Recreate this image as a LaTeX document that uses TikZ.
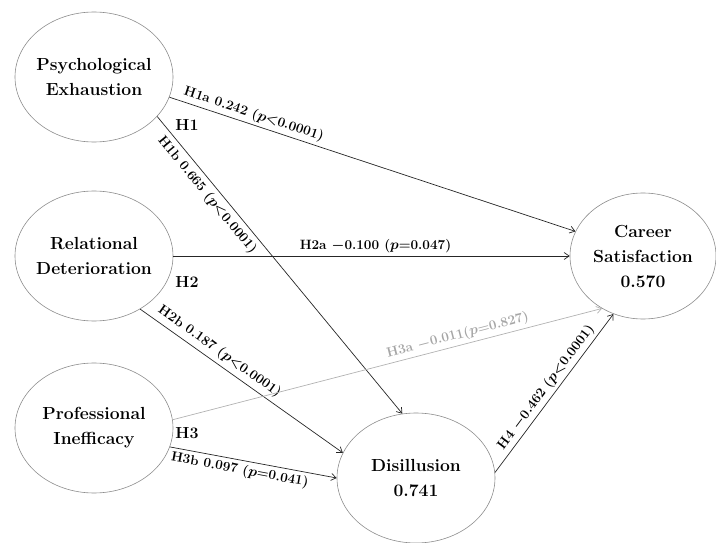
\documentclass[tikz,border=0pt]{standalone}
\usetikzlibrary{arrows.meta,shapes.geometric}
\begin{document}
\begin{tikzpicture}[x=1pt,y=-1pt,
  latent/.style={ellipse, draw=black!45, line width=0.6pt, minimum width=158pt, minimum height=130pt,
    inner xsep=-20pt, inner ysep=0pt, align=center, font=\fontsize{17.5}{25}\selectfont\bfseries},
  conn/.style={draw=black!85, line width=0.7pt, -{Straight Barb[length=5pt,width=7pt]}},
  lab/.style={font=\fontsize{13.5}{15}\selectfont\bfseries\boldmath, inner sep=3pt, sloped},
  hyp/.style={font=\fontsize{16}{18}\selectfont\bfseries, inner sep=0pt}]
\useasboundingbox (0,0) rectangle (716,543);
\node[latent] (pe) at (94,77) {Psychological\\Exhaustion};
\node[latent] (rd) at (94,256) {Relational\\Deterioration};
\node[latent] (pi) at (94,428) {Professional\\Inefficacy};
\node[latent] (di) at (416,478) {Disillusion\\0.741};
\node[latent, minimum width=146pt, minimum height=126pt] (cs) at (643,256) {Career\\Satisfaction\\0.570};
\node[hyp] (h1) at (187,125) {H1};
\node[hyp] (h2) at (187,282) {H2};
\node[hyp] (h3) at (187,433) {H3};
\draw[conn] (pe.-15.6) -- node[lab, above, pos=0.2] {H1a 0.242 ($p$<0.0001)} (cs.160);
\draw[conn] (pe.-32) -- node[lab, below=1.5pt, pos=0.24] {H1b 0.665 ($p$<0.0001)} (di.102);
\draw[conn] (rd.0) -- node[lab, above, pos=0.51] {H2a $-$0.100 ($p$=0.047)} (cs.180);
\draw[conn] (rd.-49) -- node[lab, above=1pt, pos=0.36] {H2b 0.187 ($p$<0.0001)} (di.161);
\draw[conn, draw=black!30] (pi.6) -- node[lab, above, pos=0.67, text=black!35] {H3a $-$0.011($p$=0.827)} (cs.232);
\draw[conn] (pi.-14.7) -- node[lab, below, pos=0.43] {H3b 0.097 ($p$=0.041)} (di.180);
\draw[conn] (di.4) -- node[lab, above, pos=0.5] {H4 $-$0.462 ($p$<0.0001)} (cs.243);
\end{tikzpicture}
\end{document}
